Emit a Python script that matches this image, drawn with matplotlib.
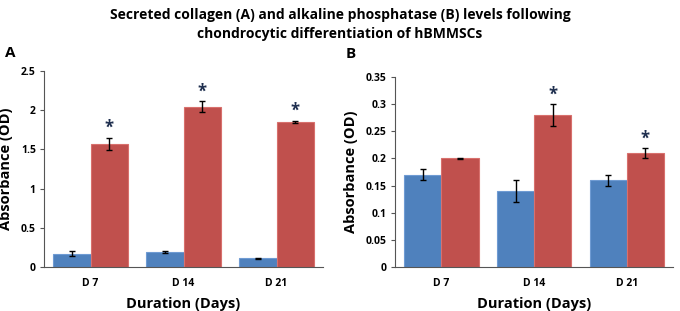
import matplotlib.pyplot as plt
import numpy as np

days = ["D 7", "D 14", "D 21"]

collagen_ctrl = [0.17, 0.19, 0.11]
collagen_ctrl_err = [0.03, 0.01, 0.01]
collagen_diff = [1.57, 2.04, 1.85]
collagen_diff_err = [0.08, 0.07, 0.01]
collagen_sig = [True, True, True]

alp_ctrl = [0.17, 0.14, 0.16]
alp_ctrl_err = [0.01, 0.02, 0.01]
alp_diff = [0.20, 0.28, 0.21]
alp_diff_err = [0.0005, 0.02, 0.01]
alp_sig = [False, True, True]

plt.rcParams["font.family"] = ["Open Sans", "DejaVu Sans"]
plt.rcParams["font.weight"] = "bold"

fig = plt.figure(figsize=(6.8, 3.11), dpi=100)
ax_a = fig.add_axes([0.065, 0.1415, 0.41, 0.6305])
ax_b = fig.add_axes([0.581, 0.1415, 0.409, 0.6105])

BLUE = "#4F81BD"
RED = "#C0504D"


def draw_panel(ax, ctrl, ctrl_err, diff, diff_err, sig, ymax, ystep, star_off):
    x = np.arange(len(days))
    w = 0.4
    ax.bar(x - w / 2, ctrl, w, color=BLUE, edgecolor="#6f9bd3", linewidth=0.8)
    ax.bar(x + w / 2, diff, w, color=RED, edgecolor="#d8706d", linewidth=0.8)
    ax.errorbar(x - w / 2, ctrl, yerr=ctrl_err, fmt="none", ecolor="black",
                elinewidth=1.0, capsize=2.5, capthick=1.0)
    ax.errorbar(x + w / 2, diff, yerr=diff_err, fmt="none", ecolor="black",
                elinewidth=1.0, capsize=2.5, capthick=1.0)
    for i, s in enumerate(sig):
        if s:
            ax.text(x[i] + w / 2, diff[i] + diff_err[i] + star_off, "*",
                    ha="center", va="center", fontsize=12, color="#1f2f4f")
    ax.set_xlim(-0.5, len(days) - 0.5)
    ax.set_ylim(0, ymax)
    ticks = np.arange(0, ymax + ystep / 2, ystep)
    ax.set_yticks(ticks)
    ax.set_yticklabels([f"{v:g}" for v in ticks])
    ax.set_xticks(x)
    ax.set_xticklabels(days)
    ax.tick_params(axis="x", length=0, pad=8, labelsize=7.5)
    ax.tick_params(axis="y", length=3, width=0.8, color="#555555", pad=3, labelsize=7.5)
    for side in ("top", "right"):
        ax.spines[side].set_visible(False)
    for side in ("left", "bottom"):
        ax.spines[side].set_color("#555555")
        ax.spines[side].set_linewidth(0.8)
    ax.set_xlabel("Duration (Days)", fontsize=10.5, fontweight="bold", labelpad=6)
    ax.set_ylabel("Absorbance (OD)", fontsize=10.5, fontweight="bold", labelpad=6)


draw_panel(ax_a, collagen_ctrl, collagen_ctrl_err, collagen_diff, collagen_diff_err,
           collagen_sig, 2.5, 0.5, 0.13)
draw_panel(ax_b, alp_ctrl, alp_ctrl_err, alp_diff, alp_diff_err,
           alp_sig, 0.35, 0.05, 0.017)

fig.text(0.5, 0.975, "Secreted collagen (A) and alkaline phosphatase (B) levels following\n"
         "chondrocytic differentiation of hBMMSCs",
         ha="center", va="top", fontsize=10, fontweight="bold", linespacing=1.45)
fig.text(0.008, 0.83, "A", fontsize=11, fontweight="bold", va="center")
fig.text(0.508, 0.825, "B", fontsize=11, fontweight="bold", va="center")

fig.savefig("out.png", dpi=100)
